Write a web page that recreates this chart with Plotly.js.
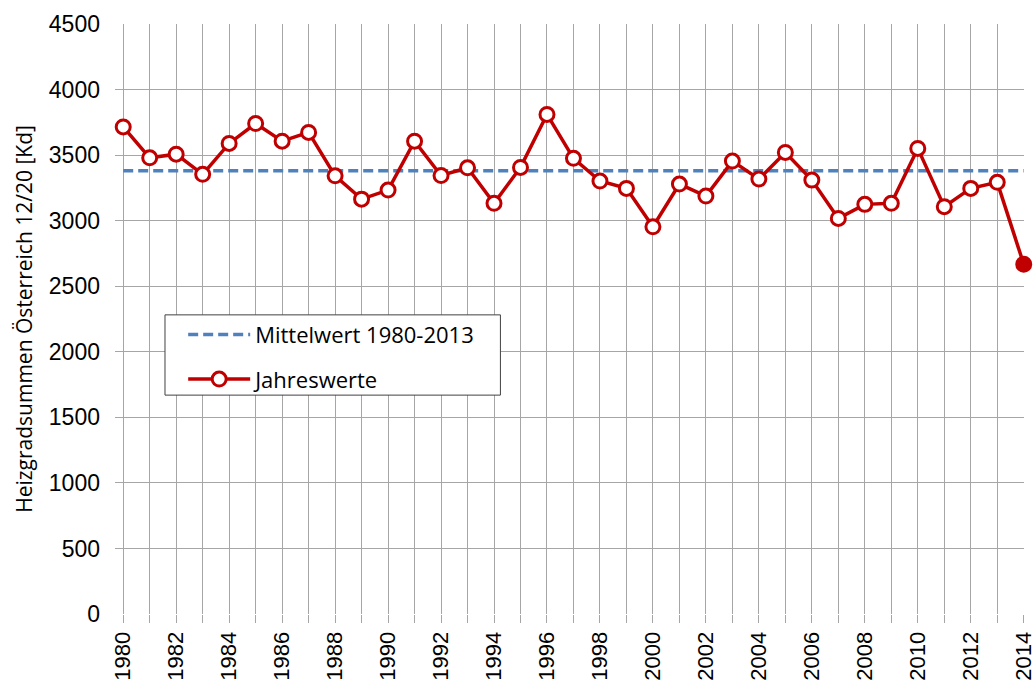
<!DOCTYPE html>
<html>
<head>
<meta charset="utf-8">
<script src="https://cdn.plot.ly/plotly-3.0.1.min.js"></script>
<style>html,body{margin:0;padding:0;background:#fff;}#chart{width:1035px;height:680px;}</style>
</head>
<body>
<div id="chart"></div>
<script>
const years = [1980,1981,1982,1983,1984,1985,1986,1987,1988,1989,1990,1991,1992,1993,1994,1995,1996,1997,1998,1999,2000,2001,2002,2003,2004,2005,2006,2007,2008,2009,2010,2011,2012,2013,2014];
const jahreswerte = [3716,3480,3508,3354,3590,3742,3607,3674,3343,3165,3234,3607,3345,3404,3133,3407,3811,3476,3303,3247,2954,3280,3188,3455,3318,3521,3310,3018,3125,3133,3552,3107,3247,3293,2668];
const meanYears = [1980, 2014];
const meanValues = [3381, 3381];
const tickYears = years;
const tickLabels = years.map(y => (y % 2 === 0 ? String(y) : ''));
const seriesNames = ['Mittelwert 1980-2013', 'Jahreswerte'];
const yTitle = 'Heizgradsummen Österreich 12/20 [Kd]';

const red = '#C00000';
const blue = '#4F81BD';
const grid = '#A6A6A6';

const markerFill = years.map((y, i) => (i === years.length - 1 ? red : '#FFFFFF'));

const traces = [
  {
    x: meanYears, y: meanValues, name: seriesNames[0], type: 'scatter', mode: 'lines',
    legendgroup: 'a',
    line: {color: blue, width: 3.5, dash: '10px,5px'}, cliponaxis: false
  },
  {
    x: years, y: jahreswerte, name: seriesNames[1], type: 'scatter', mode: 'lines+markers',
    legendgroup: 'b',
    line: {color: red, width: 3.5},
    marker: {symbol: 'circle', size: 14, color: markerFill, line: {color: red, width: 3}},
    cliponaxis: false
  }
];

const layout = {
  width: 1035, height: 680,
  margin: {l: 115, r: 11, t: 24, b: 66},
  paper_bgcolor: '#FFFFFF', plot_bgcolor: '#FFFFFF',
  font: {family: 'Liberation Sans, Arial, sans-serif', color: '#000000', size: 22},
  showlegend: true,
  xaxis: {
    range: [1979.69, 2014.01], showgrid: true, gridcolor: grid, gridwidth: 1,
    zeroline: false, showline: false,
    tickmode: 'array', tickvals: tickYears, ticktext: tickLabels,
    ticks: 'outside', ticklen: 8, tickcolor: grid, tickwidth: 1,
    tickangle: -90, ticklabeloverflow: 'allow',
    tickfont: {size: 22, family: 'Liberation Sans, Arial, sans-serif'}
  },
  yaxis: {
    range: [0, 4501], showgrid: true, gridcolor: grid, gridwidth: 1,
    zeroline: false, showline: false, dtick: 500, tick0: 0,
    ticks: '', ticklabelstandoff: 14,
    tickfont: {size: 23, family: 'Liberation Sans, Arial, sans-serif'},
    title: {text: yTitle, font: {size: 21, family: 'Open Sans, sans-serif'}, standoff: 10}
  },
  shapes: [
    {type: 'rect', xref: 'paper', yref: 'paper', x0: 0.055, x1: 0.424, y0: 0.371, y1: 0.507,
     line: {color: '#404040', width: 1}, fillcolor: '#FFFFFF', layer: 'above'}
  ],
  legend: {
    x: 0.075, y: 0.509, xanchor: 'left', yanchor: 'top',
    bgcolor: 'rgba(0,0,0,0)', borderwidth: 0,
    font: {size: 22, family: 'Open Sans, sans-serif'},
    traceorder: 'grouped', tracegroupgap: 13, itemwidth: 62
  }
};

Plotly.newPlot('chart', traces, layout, {displayModeBar: false, staticPlot: true});
</script>
</body>
</html>
